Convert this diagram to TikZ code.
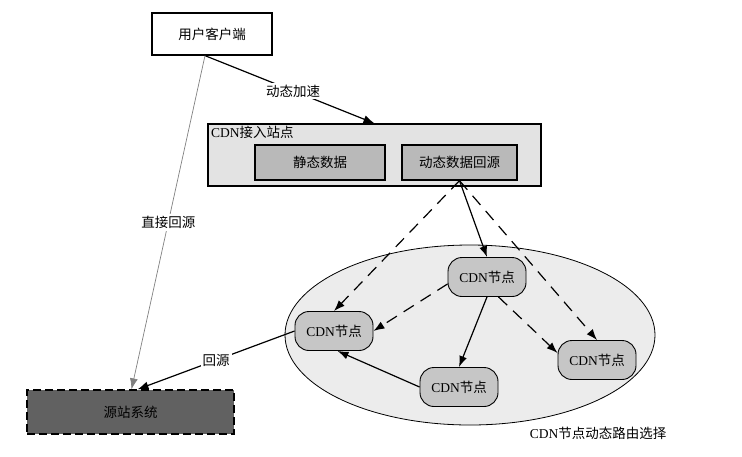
\documentclass[tikz,border=0pt]{standalone}
\usepackage{fontspec}
\setmainfont{Liberation Serif}
\newfontfamily\cjk{Noto Sans CJK SC}
\usetikzlibrary{arrows.meta,shapes.geometric}
\newcommand{\cdnword}{{\rmfamily CDN}}
\tikzset{
  txt/.style={font=\fontsize{13.5}{16}\selectfont\cjk},
  box/.style={txt, draw, line width=1.3pt, inner sep=0pt},
  cdnnode/.style={txt, draw, line width=0.9pt, fill=gray!45, rounded corners=14pt,
    minimum width=78, minimum height=39, inner sep=0pt},
  link/.style={line width=1.2pt, -{Latex[length=11pt,width=8pt]}},
  maybe/.style={link, dash pattern=on 12pt off 8pt},
  tag/.style={txt, text=black, fill=white, inner sep=2pt},
}
\begin{document}
\begin{tikzpicture}[x=1pt, y=-1pt]
  \useasboundingbox (0,0) rectangle (742,456);
  % top part
  \node[box, fill=white, minimum width=120, minimum height=42] (client) at (212,34) {用户客户端};
  \node[box, fill=gray!22, minimum width=333, minimum height=62] (cdn) at (374.5,155) {};
  \node[txt, anchor=north west, inner sep=1pt] (cdnlabel) at (210,125) {\cdnword 接入站点};
  \node[box, fill=gray!55, minimum width=130, minimum height=35] (static) at (320,162.5) {静态数据};
  \node[box, fill=gray!55, minimum width=115, minimum height=35] (dyn) at (459.5,162.5) {动态数据回源};
  % routing area
  \node[draw, ellipse, line width=0.8pt, fill=gray!15, minimum width=370, minimum height=180] (area) at (470,335) {};
  \node[cdnnode] (n1) at (487,277) {\cdnword 节点};
  \node[cdnnode] (n2) at (334,331) {\cdnword 节点};
  \node[cdnnode] (n3) at (459,387) {\cdnword 节点};
  \node[cdnnode] (n4) at (597,360) {\cdnword 节点};
  \node[txt] (caption) at (598,433) {\cdnword 节点动态路由选择};
  % origin
  \node[box, fill=black!62, dashed, dash pattern=on 8pt off 4pt, minimum width=207, minimum height=44] (src) at (130.5,412) {源站系统};
  % connectors
  \draw[link] ([xshift=-7pt]client.south) -- (cdn.north) node[tag, pos=0.52] {动态加速};
  \draw[gray, line width=0.7pt, -{Latex[length=11pt,width=8pt]}] ([xshift=-7pt]client.south) -- ([xshift=1pt]src.north) node[tag, pos=0.5] {直接回源};
  \draw[link] (n2.west) -- ([xshift=7pt]src.north) node[tag, pos=0.5] {回源};
  \draw[maybe] (dyn.south) -- (n2.north);
  \draw[link] (dyn.south) -- (n1.north);
  \draw[maybe] (dyn.south) -- (n4.north);
  \draw[maybe] (n1.190) -- (n2.east);
  \draw[link] (n1.south) -- (n3.north);
  \draw[maybe] (n1.-60) -- (n4.170);
  \draw[link] (n3.west) -- (n2.-80);
\end{tikzpicture}
\end{document}
